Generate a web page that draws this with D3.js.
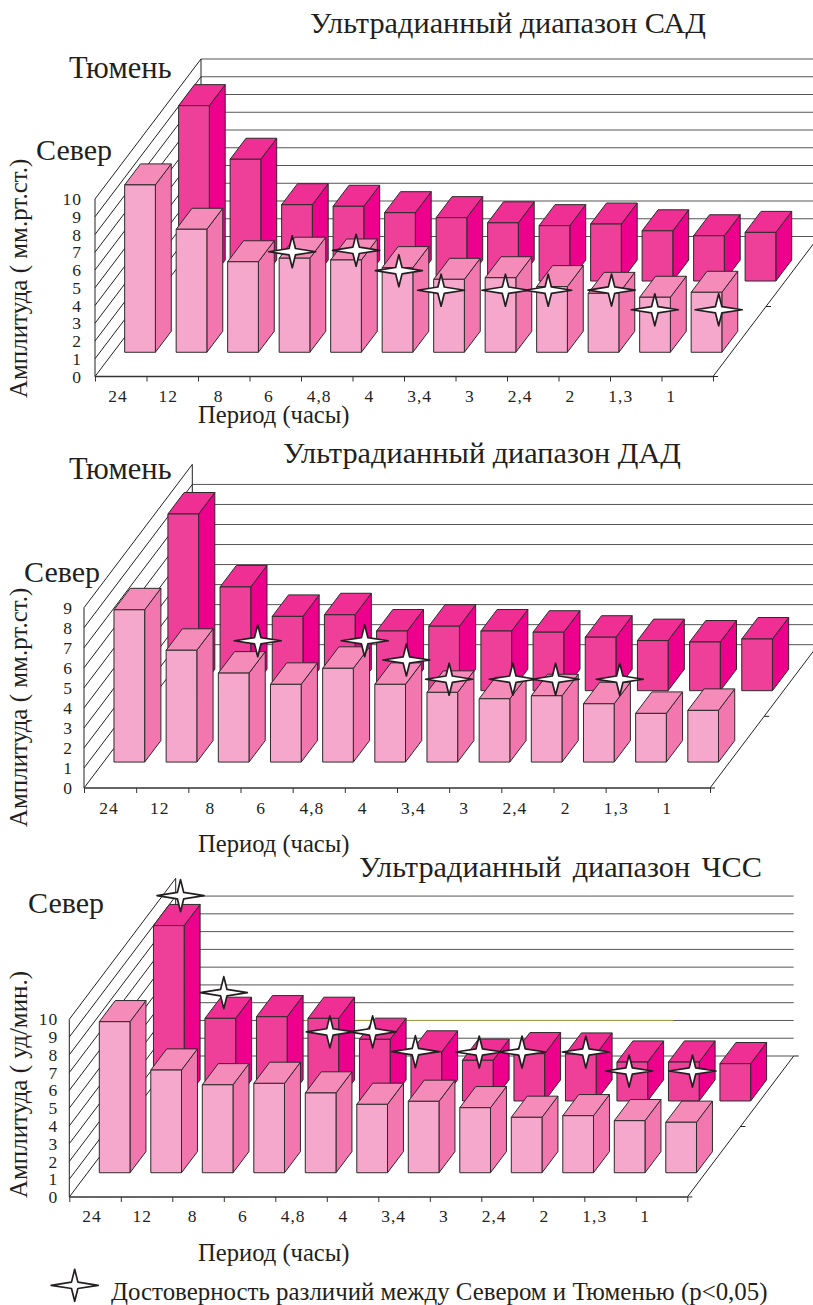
<!DOCTYPE html>
<html lang="ru">
<head>
<meta charset="utf-8">
<title>Ультрадианный диапазон</title>
<script src="https://cdn.jsdelivr.net/npm/d3@7"></script>
<style>
  html, body { margin: 0; background: #fff; }
  svg { display: block; }
  text { font-family: "Liberation Serif", serif; fill: #231f20; }
  .wall { stroke: #222; stroke-width: 1; fill: none; }
  .grid { stroke: #555; stroke-width: 1; fill: none; }
  .bar { stroke: #2e2a2b; stroke-width: 1; stroke-linejoin: round; }
  .star { fill: #fff; stroke: #231f20; stroke-width: 1.7; stroke-linejoin: round; }
  .tick-label { font-size: 17.5px; letter-spacing: 1px; }
  .axis .domain { display: none; }
  .axis line { stroke: #333; }
</style>
</head>
<body>
<div id="chart"></div>
<script>
const periods = ['24', '12', '8', '6', '4,8', '4', '3,4', '3', '2,4', '2', '1,3', '1'];

const sadNorth = [9.43, 6.93, 5.1, 5.3, 5.2, 4.77, 4.11, 4.2, 3.7, 3.32, 3.1, 3.38];
const sadTyumen = [9.88, 6.86, 4.3, 4.21, 3.85, 3.57, 3.28, 3.12, 3.21, 2.83, 2.55, 2.74];
const sadStarX = [3.83, 5.07, 5.9, 6.72, 7.97, 8.8, 10.03, 10.87, 12.11];
const sadStarY = [7.03, 7.11, 5.96, 4.86, 4.86, 4.86, 4.87, 3.76, 3.76];

const dadNorth = [7.6, 5.58, 4.44, 3.88, 4.68, 3.88, 3.48, 3.16, 3.31, 2.91, 2.43, 2.58];
const dadTyumen = [8.82, 5.18, 3.71, 3.79, 2.98, 3.22, 2.98, 2.92, 2.67, 2.5, 2.43, 2.58];
const dadStarX = [3.33, 5.38, 6.18, 7, 8.22, 9.04, 10.27];
const dadStarY = [7.35, 7.35, 6.39, 5.43, 5.43, 5.43, 5.43];

const hrNorth = [8.5, 5.78, 4.95, 5.03, 4.49, 3.85, 4.02, 3.66, 3.12, 3.21, 2.93, 2.84];
const hrTyumen = [9.87, 4.65, 4.74, 4.65, 3.47, 2.76, 2.29, 2.66, 2.64, 2.19, 2.19, 2.1];
const hrStarX = [2.16, 3, 5.06, 5.89, 6.72, 7.96, 8.79, 10.03, 10.87, 12.1];
const hrStarY = [16.96, 11.5, 9.29, 9.29, 8.18, 8.16, 8.16, 8.16, 7.09, 7.09];

const svg = d3.select('#chart').append('svg')
  .attr('width', 813)
  .attr('height', 1305)
  .attr('viewBox', '0 0 813 1305');

const polyline = d3.line();

// 4-pointed marker, long arms sideways
function starPath(cx, cy) {
  const w = 23.5, h = 16, k = 3.2;
  return polyline([
    [cx, cy - h], [cx + k, cy - k], [cx + w, cy], [cx + k, cy + k],
    [cx, cy + h], [cx - k, cy + k], [cx - w, cy], [cx - k, cy - k]
  ]) + 'Z';
}

function drawChart(c) {
  const g = svg.append('g');

  const xScale = d3.scaleLinear().domain([0, periods.length]).range([c.x0, c.x1]);
  const yScale = d3.scaleLinear().domain([0, c.yMax]).range([c.y0, c.yTop]);
  const depthX = d3.scaleLinear().domain([0, 1]).range([0, c.dx]);
  const depthY = d3.scaleLinear().domain([0, 1]).range([0, -c.dy]);
  const project = (cat, depth, value) => [xScale(cat) + depthX(depth), yScale(value) + depthY(depth)];

  // side wall hatching
  g.selectAll('.hatch')
    .data(d3.range(0, c.yMax + 1))
    .enter().append('path')
    .attr('class', 'wall hatch')
    .attr('d', v => polyline([project(0, 0, v), project(0, 1, v)]));

  // back wall lines
  g.selectAll('.grid')
    .data(d3.range(0, c.gridLines))
    .enter().append('path')
    .attr('class', 'grid')
    .attr('d', v => polyline([project(0, 1, v), project(periods.length, 1, v)]));

  if (c.accent) {
    g.append('path')
      .attr('d', polyline([project(c.accent[0], 1, c.accent[2]), project(c.accent[1], 1, c.accent[2])]))
      .attr('stroke', '#a8a04a')
      .attr('fill', 'none');
  }

  g.append('path').attr('class', 'wall')
    .attr('d', polyline([project(0, 0, 0), project(0, 0, c.yMax)]));
  g.append('path').attr('class', 'wall')
    .attr('d', polyline([project(0, 1, 0), project(0, 1, c.yMax)]));
  g.append('path').attr('class', 'wall')
    .attr('d', polyline([project(periods.length, 0, 0), project(periods.length, 1, 0)]));

  // short marks on the right floor edge
  g.selectAll('.depth-tick')
    .data([0, 0.5, 1])
    .enter().append('path')
    .attr('class', 'wall depth-tick')
    .attr('d', d => {
      const p = project(periods.length, d, 0);
      return polyline([p, [p[0] + 5, p[1]]]);
    });

  const bars = (values, depth, colors) => {
    values.forEach((v, i) => {
      const l = i + c.gap;
      const r = l + c.barWidth;
      const d2 = depth + 0.15;
      const faces = [
        { pts: [project(r, depth, 0), project(r, d2, 0), project(r, d2, v), project(r, depth, v)], fill: colors.side },
        { pts: [project(l, depth, v), project(r, depth, v), project(r, d2, v), project(l, d2, v)], fill: colors.top },
        { pts: [project(l, depth, 0), project(r, depth, 0), project(r, depth, v), project(l, depth, v)], fill: colors.front }
      ];
      g.selectAll(null)
        .data(faces)
        .enter().append('path')
        .attr('class', 'bar')
        .attr('fill', d => d.fill)
        .attr('d', d => polyline(d.pts) + 'Z');
    });
  };

  bars(c.back, c.backDepth, { front: '#ee3f99', side: '#ec008c', top: '#ef2f94' });
  bars(c.front, c.frontDepth, { front: '#f5a8cb', side: '#f277ae', top: '#f48bb8' });

  // x axis, labels sit on their own slightly tighter row
  g.append('g')
    .attr('class', 'axis')
    .attr('transform', `translate(0,${c.y0})`)
    .call(d3.axisBottom(xScale).tickValues(d3.range(periods.length + 1)).tickSize(5).tickFormat(''));
  g.append('path')
    .attr('d', polyline([project(0, 0, 0), project(periods.length, 0, 0)]))
    .attr('stroke', '#333')
    .attr('stroke-width', 1.5)
    .attr('fill', 'none');

  const labelScale = d3.scalePoint().domain(periods).range(c.labelRange);
  g.selectAll('.tick-label.x')
    .data(periods)
    .enter().append('text')
    .attr('class', 'tick-label x')
    .attr('x', d => labelScale(d))
    .attr('y', c.labelY)
    .attr('text-anchor', 'middle')
    .text(d => d);

  const yAxis = g.append('g')
    .attr('class', 'axis')
    .attr('transform', `translate(${c.x0},0)`)
    .call(d3.axisLeft(yScale).tickValues(d3.range(0, c.yMax + 1)).tickSize(0).tickPadding(c.yPad).tickFormat(d3.format('d')));
  yAxis.selectAll('text')
    .attr('class', 'tick-label')
    .attr('fill', null);

  g.selectAll('.star')
    .data(c.starX)
    .enter().append('path')
    .attr('class', 'star')
    .attr('d', (d, i) => starPath(xScale(d), yScale(c.starY[i])));

  g.append('text')
    .attr('x', c.titleX)
    .attr('y', c.titleY)
    .style('font-size', '30.3px')
    .style('word-spacing', c.titleSpacing)
    .text(c.title);

  if (c.tyumenY) {
    g.append('text')
      .attr('x', 69)
      .attr('y', c.tyumenY)
      .style('font-size', '30.5px')
      .text('Тюмень');
  }
  g.append('text')
    .attr('x', c.northX)
    .attr('y', c.northY)
    .style('font-size', '30px')
    .text('Север');

  g.append('text')
    .attr('x', 198)
    .attr('y', c.periodY)
    .style('font-size', '24.6px')
    .text('Период (часы)');

  g.append('text')
    .attr('transform', `translate(27,${c.unitBottom}) rotate(-90)`)
    .style('font-size', '25px')
    .text(c.unit);
}

drawChart({
  title: 'Ультрадианный диапазон САД', titleX: 310, titleY: 33, titleSpacing: '0',
  unit: 'Амплитуда ( мм.рт.ст.)', unitBottom: 398,
  front: sadNorth, back: sadTyumen, starX: sadStarX, starY: sadStarY,
  x0: 95, x1: 713, y0: 376.5, yTop: 199, yMax: 10, gridLines: 11, dx: 106, dy: 140,
  gap: 0.22, barWidth: 0.596, frontDepth: 0.173, backDepth: 0.682,
  labelRange: [118, 671], labelY: 402, yPad: 13, periodY: 423,
  tyumenY: 78, northX: 36, northY: 160
});

drawChart({
  title: 'Ультрадианный диапазон ДАД', titleX: 283, titleY: 463, titleSpacing: '0',
  unit: 'Амплитуда ( мм.рт.ст.)', unitBottom: 827,
  front: dadNorth, back: dadTyumen, starX: dadStarX, starY: dadStarY,
  x0: 84, x1: 710, y0: 788, yTop: 607.7, yMax: 9, gridLines: 9, dx: 108.3, dy: 143.3,
  gap: 0.199, barWidth: 0.588, frontDepth: 0.181, backDepth: 0.679,
  labelRange: [109, 667], labelY: 814, yPad: 11, periodY: 852,
  tyumenY: 479, northX: 24, northY: 582
});

drawChart({
  title: 'Ультрадианный диапазон ЧСС', titleX: 359, titleY: 877, titleSpacing: '4px',
  unit: 'Амплитуда ( уд/мин.)', unitBottom: 1198,
  front: hrNorth, back: hrTyumen, starX: hrStarX, starY: hrStarY,
  x0: 69.3, x1: 687.3, y0: 1197, yTop: 1019.3, yMax: 10, gridLines: 10, dx: 106.4, dy: 141,
  gap: 0.227, barWidth: 0.596, frontDepth: 0.172, backDepth: 0.681,
  labelRange: [92, 645], labelY: 1222, yPad: 11, periodY: 1261,
  northX: 28, northY: 913, accent: [2.5, 9.66, 2]
});

// legend
svg.append('path')
  .attr('class', 'star')
  .attr('d', starPath(74.7, 1285.3));
svg.append('text')
  .attr('x', 111)
  .attr('y', 1300)
  .style('font-size', '24.9px')
  .text('Достоверность различий между Севером и Тюменью (р<0,05)');
</script>
</body>
</html>
